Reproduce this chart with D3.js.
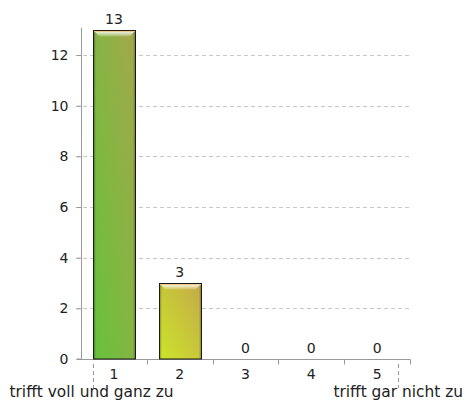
<!DOCTYPE html>
<html>
<head>
<meta charset="utf-8">
<script src="https://cdn.jsdelivr.net/npm/d3@7"></script>
<style>
  html, body { margin: 0; padding: 0; background: #fff; }
  svg { display: block; font-family: "DejaVu Sans", Verdana, sans-serif; }
</style>
</head>
<body>
<svg id="chart" width="466" height="401"></svg>
<script>
// Answer scale 1..5 and number of responses per option
const categories = ["1", "2", "3", "4", "5"];
const counts = [13, 3, 0, 0, 0];
const yTicks = [0, 2, 4, 6, 8, 10, 12];
const leftLabel = "trifft voll und ganz zu";
const rightLabel = "trifft gar nicht zu";
// bar fills: [bottom-left colour, top-right colour] per bar
const barColors = [
  ["#66c23a", "#a4a84c"],
  ["#cce42a", "#c4aa4a"],
  ["#cce42a", "#c4aa4a"],
  ["#cce42a", "#c4aa4a"],
  ["#cce42a", "#c4aa4a"]
];

const NUM_SIZE = 14, LABEL_SIZE = 15.4;
const svg = d3.select("#chart");
const plotL = 81, plotR = 410;
const plotB = 359;

const x = d3.scaleBand().domain(categories).range([plotL, plotR])
  .paddingInner(0.36).paddingOuter(0.18);
const y = d3.scaleLinear().domain([0, 12]).range([plotB, 55]);

const defs = svg.append("defs");
barColors.forEach((c, i) => {
  const g = defs.append("linearGradient").attr("id", "bar" + i)
    .attr("x1", "0%").attr("y1", "100%").attr("x2", "100%").attr("y2", "0%");
  g.append("stop").attr("offset", "0%").attr("stop-color", c[0]);
  g.append("stop").attr("offset", "100%").attr("stop-color", c[1]);
});
// dark side shading inside bar edges
const side = defs.append("linearGradient").attr("id", "side")
  .attr("x1", "0%").attr("x2", "100%").attr("y1", "0%").attr("y2", "0%");
side.append("stop").attr("offset", "0%").attr("stop-color", "#000").attr("stop-opacity", 0.35);
side.append("stop").attr("offset", "6%").attr("stop-color", "#000").attr("stop-opacity", 0);
side.append("stop").attr("offset", "94%").attr("stop-color", "#000").attr("stop-opacity", 0);
side.append("stop").attr("offset", "100%").attr("stop-color", "#000").attr("stop-opacity", 0.35);
const bevel = defs.append("linearGradient").attr("id", "bevel")
  .attr("x1", "0%").attr("x2", "0%").attr("y1", "0%").attr("y2", "100%");
bevel.append("stop").attr("offset", "0%").attr("stop-color", "#fff").attr("stop-opacity", 1);
bevel.append("stop").attr("offset", "100%").attr("stop-color", "#fff").attr("stop-opacity", 0.15);

// gridlines
const grid = svg.append("g");
grid.selectAll("line").data(yTicks.filter(d => d > 0)).join("line")
  .attr("x1", plotL - 5).attr("x2", plotR)
  .attr("y1", d => Math.round(y(d)) + 0.5).attr("y2", d => Math.round(y(d)) + 0.5)
  .attr("stroke", "#c8c8c8").attr("stroke-dasharray", "4,3");

// y axis
const yAxis = svg.append("g").attr("transform", `translate(${plotL + 0.5},0)`)
  .call(d3.axisLeft(y).tickValues(yTicks).tickSize(5).tickPadding(8));
yAxis.select(".domain").attr("stroke", "#999").attr("d", `M-5,${plotB}H0V${y(13) - 2}`);
yAxis.selectAll(".tick line").attr("stroke", "#999");
yAxis.selectAll("text").attr("font-size", NUM_SIZE).attr("fill", "#222")
  .attr("font-family", "DejaVu Sans, Verdana, sans-serif");

// x axis with tick marks at band boundaries
const xAxisG = svg.append("g").attr("transform", `translate(0,${plotB + 0.5})`);
xAxisG.append("line").attr("x1", plotL).attr("x2", plotR + 0.5).attr("stroke", "#999");
const bounds = categories.map(c => x(c) - x.step() * x.paddingInner() / 2).concat([plotR]);
xAxisG.selectAll("line.tk").data(bounds.slice(1)).join("line").attr("class", "tk")
  .attr("x1", d => Math.round(d) + 0.5).attr("x2", d => Math.round(d) + 0.5)
  .attr("y1", 0).attr("y2", 5).attr("stroke", "#999");
xAxisG.selectAll("text").data(categories).join("text")
  .attr("x", d => x(d) + x.bandwidth() / 2).attr("y", 19)
  .attr("text-anchor", "middle").attr("font-size", NUM_SIZE).attr("fill", "#222")
  .text(d => d);

// bars
const bars = svg.append("g");
categories.forEach((c, i) => {
  const v = counts[i];
  if (v <= 0) return;
  const bx = Math.round(x(c)) + 0.5, bw = Math.round(x.bandwidth());
  const top = Math.round(y(v)) + 0.5, h = plotB - top;
  bars.append("rect").attr("x", bx).attr("y", top).attr("width", bw).attr("height", h)
    .attr("fill", `url(#bar${i})`);
  bars.append("rect").attr("x", bx).attr("y", top).attr("width", bw).attr("height", h)
    .attr("fill", "url(#side)");
  // top bevel highlight
  bars.append("path")
    .attr("d", `M${bx},${top}H${bx + bw}L${bx + bw - 6},${top + 6}H${bx + 6}Z`)
    .attr("fill", "url(#bevel)");
  bars.append("line").attr("x1", bx + 1).attr("x2", bx + bw - 1)
    .attr("y1", top + 1).attr("y2", top + 1).attr("stroke", "#f5c98a").attr("stroke-width", 1);
  bars.append("rect").attr("x", bx).attr("y", top).attr("width", bw).attr("height", h)
    .attr("fill", "none").attr("stroke", "#1a1a1a").attr("stroke-width", 1);
});

// value labels
svg.append("g").selectAll("text").data(categories).join("text")
  .attr("x", d => x(d) + x.bandwidth() / 2)
  .attr("y", (d, i) => y(counts[i]) - 6)
  .attr("text-anchor", "middle").attr("font-size", NUM_SIZE).attr("fill", "#222")
  .text((d, i) => counts[i]);

// scale end labels with dashed markers
const firstC = x(categories[0]);
svg.append("line").attr("x1", Math.round(firstC) + 0.5).attr("x2", Math.round(firstC) + 0.5)
  .attr("y1", 364).attr("y2", 388).attr("stroke", "#999").attr("stroke-dasharray", "4,3");
svg.append("line").attr("x1", 398.5).attr("x2", 398.5)
  .attr("y1", 364).attr("y2", 388).attr("stroke", "#999").attr("stroke-dasharray", "4,3");
svg.append("text").attr("x", 9.5).attr("y", 397).attr("font-size", LABEL_SIZE).attr("fill", "#222")
  .text(leftLabel);
svg.append("text").attr("x", 463).attr("y", 397).attr("font-size", LABEL_SIZE).attr("fill", "#222")
  .attr("text-anchor", "end").text(rightLabel);
</script>
</body>
</html>
